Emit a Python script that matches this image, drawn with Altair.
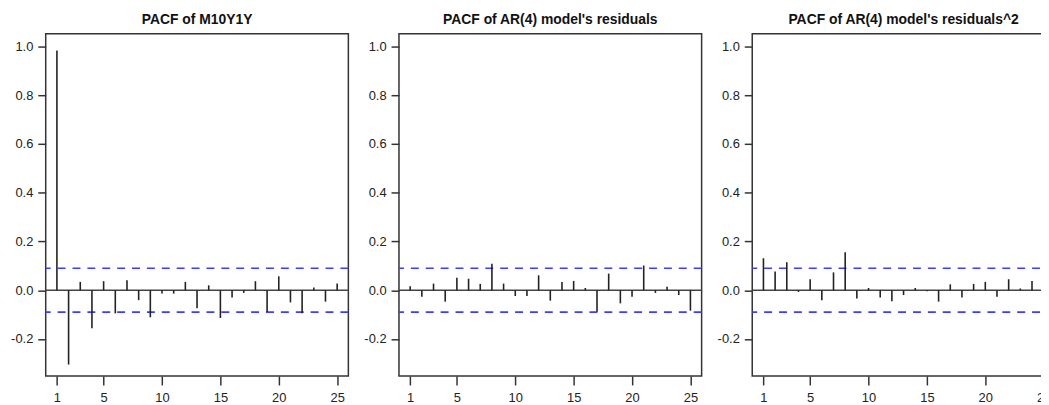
import altair as alt
import pandas as pd

lags = list(range(1, 26))

pacf_m10y1y = [0.983, -0.305, 0.034, -0.156, 0.037, -0.095, 0.041, -0.041, -0.111, -0.014,
               -0.014, 0.034, -0.074, 0.020, -0.114, -0.030, -0.011, 0.037, -0.089, 0.057,
               -0.050, -0.095, 0.011, -0.047, 0.027]
pacf_resid = [0.016, -0.027, 0.027, -0.047, 0.051, 0.047, 0.026, 0.108, 0.027, -0.024,
              -0.024, 0.061, -0.043, 0.034, 0.038, 0.009, -0.088, 0.068, -0.054, -0.027,
              0.101, -0.011, 0.014, -0.020, -0.084]
pacf_resid2 = [0.131, 0.077, 0.115, -0.007, 0.045, -0.041, 0.073, 0.156, -0.034, 0.009,
               -0.030, -0.045, -0.020, 0.009, -0.004, -0.047, 0.024, -0.030, 0.026, 0.034,
               -0.027, 0.045, 0.007, 0.038, 0.010]

titles = ["PACF of M10Y1Y",
          "PACF of AR(4) model's residuals",
          "PACF of AR(4) model's residuals^2"]

ci_bounds = [0.09, -0.09]
y_ticks = [-0.2, 0.0, 0.2, 0.4, 0.6, 0.8, 1.0]
x_ticks = [1, 5, 10, 15, 20, 25]

FONT = "Liberation Sans, Arial, Helvetica, sans-serif"


def panel(values, title):
    df = pd.DataFrame({"lag": lags, "pacf": values})
    x_enc = alt.X("lag:Q",
                  scale=alt.Scale(domain=[0.04, 25.96], nice=False, zero=False),
                  axis=alt.Axis(values=x_ticks, title=None, labelPadding=7,
                                tickSize=9, format="d"))
    y_scale = alt.Scale(domain=[-0.352, 1.052], nice=False, zero=False)
    y_axis = alt.Axis(values=y_ticks, title=None, labelPadding=5, tickSize=8,
                      labelExpr="datum.value < 0 ? '-' + format(-datum.value, '.1f') : format(datum.value, '.1f')")
    y_enc = alt.Y("pacf:Q", scale=y_scale, axis=y_axis)

    bars = alt.Chart(df).mark_rule(color="#222222", strokeWidth=1.6).encode(
        x=x_enc, y=y_enc, y2=alt.datum(0))
    zero = alt.Chart(pd.DataFrame({"pacf": [0.0]})).mark_rule(
        color="#444444", strokeWidth=1.6).encode(y=y_enc)
    ci = alt.Chart(pd.DataFrame({"pacf": ci_bounds})).mark_rule(
        color="#3d3dff", strokeDash=[8, 7], strokeWidth=1.7).encode(y=y_enc)
    return alt.layer(ci, zero, bars).properties(
        width=305, height=345,
        title=alt.TitleParams(title, fontSize=14, fontWeight="bold", font=FONT,
                              color="#111111", offset=7, baseline="alphabetic",
                              dy=11))


chart = alt.hconcat(
    panel(pacf_m10y1y, titles[0]),
    panel(pacf_resid, titles[1]),
    panel(pacf_resid2, titles[2]),
    spacing=51, bounds="flush",
).properties(
    autosize=alt.AutoSizeParams(type="none"),
    padding={"left": 38, "top": 23, "right": 1003, "bottom": 374},
    background="white",
).configure_view(
    stroke="#333333", strokeWidth=1.5
).configure_axis(
    grid=False, domain=False, labelFont=FONT, labelFontSize=13,
    labelColor="#222222", tickColor="#333333", tickWidth=1.5
)

chart.save("out.html", embed_options={"renderer": "svg", "actions": False})
